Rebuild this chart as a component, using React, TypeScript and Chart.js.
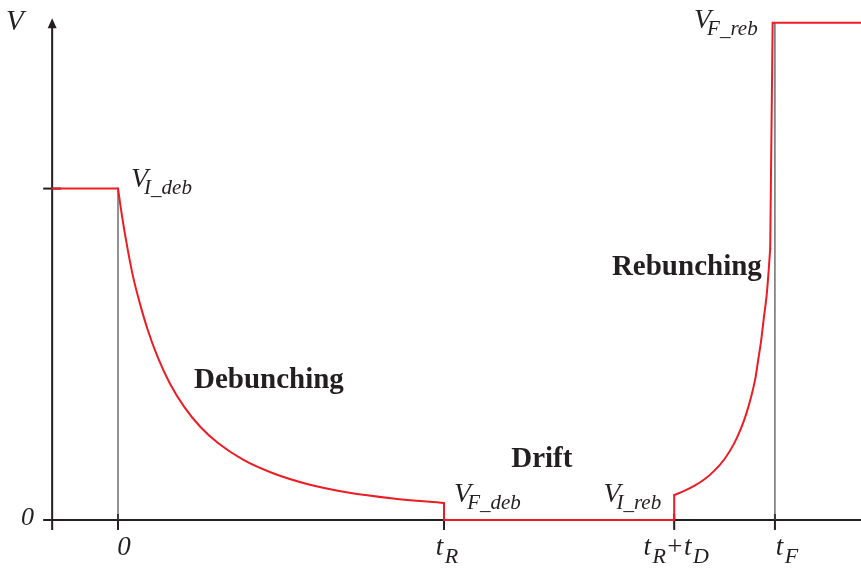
import { useEffect, useRef } from "react";
import { Chart, registerables } from "chart.js";

Chart.register(...registerables);

// Time is measured so that t_R = 10; voltage in units of V_I_deb.
const tR = 10;
const tRD = 17.06;
const tF = 20.15;

const xTickValues = [0, tR, tRD, tF];
const xTickLabels = [
  [["0", ""]],
  [["t", "R"]],
  [["t", "R"], ["+", ""], ["t", "D"]],
  [["t", "F"]],
];
const yTickValues = [0, 1];
const yTickLabels = ["0", ""];

// Voltage held before debunching starts
const holdT = [-2.02, 0];
const holdV = [1, 1];

// Debunching decay from V_I_deb down to V_F_deb
const debunchT = [0, 0.123, 0.276, 0.46, 0.675, 0.92, 1.227, 1.595, 2.025, 2.515, 3.067, 3.834, 4.755, 5.828, 7.055, 8.436, 10];
const debunchV = [1, 0.917, 0.828, 0.735, 0.652, 0.571, 0.489, 0.411, 0.342, 0.282, 0.232, 0.182, 0.141, 0.108, 0.083, 0.065, 0.051];

// Drift at zero voltage
const driftT = [10, 10, 17.06, 17.06];
const driftV = [0.051, 0, 0, 0.075];

// Rebunching rise from V_I_reb
const rebunchT = [17.06, 17.367, 17.673, 17.98, 18.287, 18.594, 18.9, 19.115, 19.27, 19.422, 19.545, 19.637, 19.729, 19.82, 19.897, 19.959, 20.005];
const rebunchV = [0.075, 0.0875, 0.1026, 0.122, 0.148, 0.1825, 0.231, 0.2775, 0.32, 0.3725, 0.425, 0.483, 0.543, 0.618, 0.679, 0.754, 0.82];

// Final jump to V_F_reb and hold
const finalT = [20.005, 20.08, 22.8];
const finalV = [0.82, 1.5, 1.5];

// Thin vertical guides at the phase boundaries
const guideT = [0, tR, tF];
const guideTopV = [1, 0.051, 1.5];

// Named voltage levels
const levelSubs = ["I_deb", "F_deb", "I_reb", "F_reb"];
const levelT = [0, tR, tRD, 20.08];
const levelV = [1, 0.051, 0.075, 1.5];

const phaseNames = ["Debunching", "Drift", "Rebunching"];

const SERIF = '"Liberation Serif", "Times New Roman", serif';
const INK = "#231f20";
const RED = "#ed1c24";
const GUIDE = "#4a4a4a";

const pts = (ts: number[], vs: number[]) => ts.map((t, i) => ({ x: t, y: vs[i] }));

function drawParts(
  ctx: CanvasRenderingContext2D,
  parts: string[][],
  x: number,
  y: number,
  mainSize: number,
  subSize: number,
  subDrop: number,
  align: "left" | "center" | "right",
  gap: number
) {
  const mainFont = (s: string) => (s === "+" ? `${mainSize}px ${SERIF}` : `italic ${mainSize}px ${SERIF}`);
  const subFont = `italic ${subSize}px ${SERIF}`;
  const subShift = (m: string) => (m === "V" ? -4 : gap);
  let total = 0;
  parts.forEach(([m, s], i) => {
    ctx.font = mainFont(m);
    total += ctx.measureText(m).width;
    if (s) {
      ctx.font = subFont;
      total += ctx.measureText(s).width + subShift(m);
    }
    if (i < parts.length - 1) total += gap;
  });
  let cx = align === "left" ? x : align === "center" ? x - total / 2 : x - total;
  ctx.textAlign = "left";
  ctx.textBaseline = "alphabetic";
  parts.forEach(([m, s], i) => {
    ctx.font = mainFont(m);
    ctx.fillText(m, cx, y);
    cx += ctx.measureText(m).width;
    if (s) {
      cx += subShift(m);
      ctx.font = subFont;
      ctx.fillText(s, cx, y + subDrop);
      cx += ctx.measureText(s).width;
    }
    if (i < parts.length - 1) cx += gap;
  });
}

const diagramPlugin = {
  id: "diagram",
  beforeDatasetsDraw(chart: any) {
    const { ctx } = chart;
    const xs = chart.scales.x;
    const ys = chart.scales.y;
    const X = (t: number) => xs.getPixelForValue(t);
    const Y = (v: number) => ys.getPixelForValue(v);
    const ax = X(holdT[0]);
    const ay = Y(0);
    const left = ax - 9;
    const tipY = Y(1.514);

    ctx.save();
    ctx.strokeStyle = INK;
    ctx.fillStyle = INK;
    ctx.lineWidth = 2;
    ctx.lineCap = "butt";

    // vertical axis with arrow head
    ctx.beginPath();
    ctx.moveTo(ax, ay + 10);
    ctx.lineTo(ax, tipY + 8);
    ctx.stroke();
    ctx.beginPath();
    ctx.moveTo(ax, tipY);
    ctx.lineTo(ax - 4.5, tipY + 10);
    ctx.lineTo(ax + 4.5, tipY + 10);
    ctx.closePath();
    ctx.fill();

    // horizontal axis
    ctx.beginPath();
    ctx.moveTo(left, ay);
    ctx.lineTo(chart.width, ay);
    ctx.stroke();

    // time ticks
    for (const t of xTickValues) {
      ctx.beginPath();
      ctx.moveTo(X(t), ay - 6);
      ctx.lineTo(X(t), ay + 10);
      ctx.stroke();
    }
    // voltage ticks
    for (const v of yTickValues) {
      if (v === 0) continue;
      ctx.beginPath();
      ctx.moveTo(left, Y(v));
      ctx.lineTo(left + 18, Y(v));
      ctx.stroke();
    }
    ctx.restore();
  },
  afterDatasetsDraw(chart: any) {
    const { ctx } = chart;
    const xs = chart.scales.x;
    const ys = chart.scales.y;
    const X = (t: number) => xs.getPixelForValue(t);
    const Y = (v: number) => ys.getPixelForValue(v);
    const ay = Y(0);

    ctx.save();
    ctx.fillStyle = INK;

    // axis title
    ctx.font = `italic 29px ${SERIF}`;
    ctx.textAlign = "left";
    ctx.textBaseline = "alphabetic";
    ctx.fillText("V", 6, 30);

    // voltage tick labels
    yTickValues.forEach((v, i) => {
      if (!yTickLabels[i]) return;
      ctx.font = `italic 26px ${SERIF}`;
      ctx.textAlign = "right";
      ctx.fillText(yTickLabels[i], 34, Y(v) + 5);
    });

    // time tick labels
    const nudge = [6, 3, 2, 12];
    xTickValues.forEach((t, i) => {
      drawParts(ctx, xTickLabels[i], X(t) + nudge[i], ay + 35, 27, 22, 8, "center", 1.5);
    });

    // voltage level labels
    const place: [number, number, "left" | "right"][] = [
      [13, -1.5, "left"],
      [10, -1, "left"],
      [-13, 7, "right"],
      [-15, 5.5, "right"],
    ];
    levelSubs.forEach((s, i) => {
      const [dx, dy, al] = place[i];
      drawParts(ctx, [["V", s]], X(levelT[i]) + dx, Y(levelV[i]) + dy, 28, 21, 6.5, al, 0);
    });

    // phase names
    const phasePos = [
      [2.33, 0.398],
      [12.06, 0.16],
      [15.15, 0.739],
    ];
    ctx.font = `bold 29px ${SERIF}`;
    ctx.textAlign = "left";
    phaseNames.forEach((n, i) => {
      ctx.fillText(n, X(phasePos[i][0]), Y(phasePos[i][1]));
    });
    ctx.restore();
  },
};

export default function App() {
  const ref = useRef<HTMLCanvasElement | null>(null);

  useEffect(() => {
    if (!ref.current) return;
    const red = { borderColor: RED, borderWidth: 2, pointRadius: 0, showLine: true, fill: false, clip: false as any, borderCapStyle: "round" as const, borderJoinStyle: "miter" as const };
    const guides = guideT.map((t, i) => ({
      data: pts([t, t], [guideTopV[i], 0]),
      borderColor: GUIDE,
      borderWidth: 1.2,
      pointRadius: 0,
      showLine: true,
      fill: false,
      clip: false as any,
    }));
    const chart = new Chart(ref.current, {
      type: "scatter",
      data: {
        datasets: [
          { ...red, data: pts(holdT, holdV), tension: 0 },
          { ...red, data: pts(debunchT, debunchV), cubicInterpolationMode: "monotone" },
          { ...red, data: pts(driftT, driftV), tension: 0 },
          { ...red, data: pts(rebunchT, rebunchV), cubicInterpolationMode: "monotone" },
          { ...red, data: pts(finalT, finalV), tension: 0 },
          ...guides,
        ] as any,
      },
      options: {
        animation: false,
        responsive: false,
        devicePixelRatio: 1,
        layout: { padding: 0 },
        plugins: { legend: { display: false }, tooltip: { enabled: false } },
        events: [],
        scales: {
          x: { type: "linear", min: -3.62, max: 22.79, display: false },
          y: { type: "linear", min: -0.151, max: 1.569, display: false },
        },
      },
      plugins: [diagramPlugin],
    });
    return () => chart.destroy();
  }, []);

  return (
    <div style={{ position: "fixed", left: 0, top: 0, width: 861, height: 570, background: "#fff" }}>
      <canvas ref={ref} width={861} height={570} />
    </div>
  );
}
